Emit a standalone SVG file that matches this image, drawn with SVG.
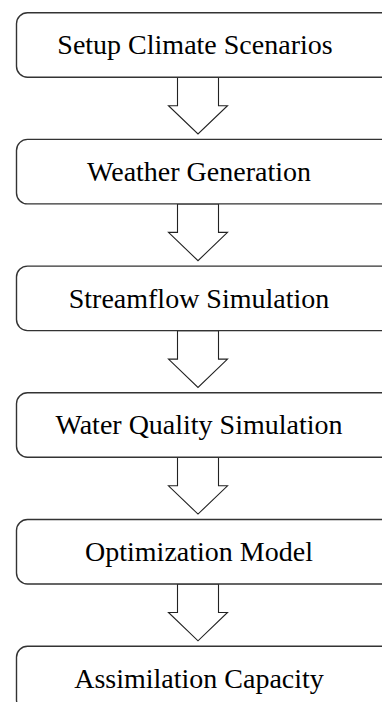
<svg xmlns="http://www.w3.org/2000/svg" width="382" height="702" viewBox="0 0 382 702">
<style>
.box{fill:#fff;stroke:#333;stroke-width:1.4}
.lbl{font-family:"Liberation Serif","Times New Roman",serif;font-size:28px;fill:#000;text-anchor:middle}
.arr{fill:#fff;stroke:#222;stroke-width:1.1;stroke-linejoin:miter}
</style>
<rect width="382" height="702" fill="#fff"/>
<g id="connectors">
<polygon class="arr" points="177.5,77.2 218.5,77.2 218.5,105.7 227.5,105.7 198,134 168.5,105.7 177.5,105.7"/>
<polygon class="arr" points="177.5,203.9 218.5,203.9 218.5,232.4 227.5,232.4 198,260.7 168.5,232.4 177.5,232.4"/>
<polygon class="arr" points="177.5,330.6 218.5,330.6 218.5,359.1 227.5,359.1 198,387.4 168.5,359.1 177.5,359.1"/>
<polygon class="arr" points="177.5,457.3 218.5,457.3 218.5,485.8 227.5,485.8 198,514.1 168.5,485.8 177.5,485.8"/>
<polygon class="arr" points="177.5,584 218.5,584 218.5,612.5 227.5,612.5 198,640.8 168.5,612.5 177.5,612.5"/>
</g>
<g id="n1"><rect class="box" x="16.5" y="12.7" width="380" height="64.5" rx="11"/><text class="lbl" x="195" y="54.3">Setup Climate Scenarios</text></g>
<g id="n2"><rect class="box" x="16.5" y="139.4" width="380" height="64.5" rx="11"/><text class="lbl" x="199" y="181">Weather Generation</text></g>
<g id="n3"><rect class="box" x="16.5" y="266.1" width="380" height="64.5" rx="11"/><text class="lbl" x="199" y="307.7">Streamflow Simulation</text></g>
<g id="n4"><rect class="box" x="16.5" y="392.8" width="380" height="64.5" rx="11"/><text class="lbl" x="199" y="434.4">Water Quality Simulation</text></g>
<g id="n5"><rect class="box" x="16.5" y="519.5" width="380" height="64.5" rx="11"/><text class="lbl" x="199" y="561.1">Optimization Model</text></g>
<g id="n6"><rect class="box" x="16.5" y="646.2" width="380" height="64.5" rx="11"/><text class="lbl" x="199" y="687.8">Assimilation Capacity</text></g>
</svg>
